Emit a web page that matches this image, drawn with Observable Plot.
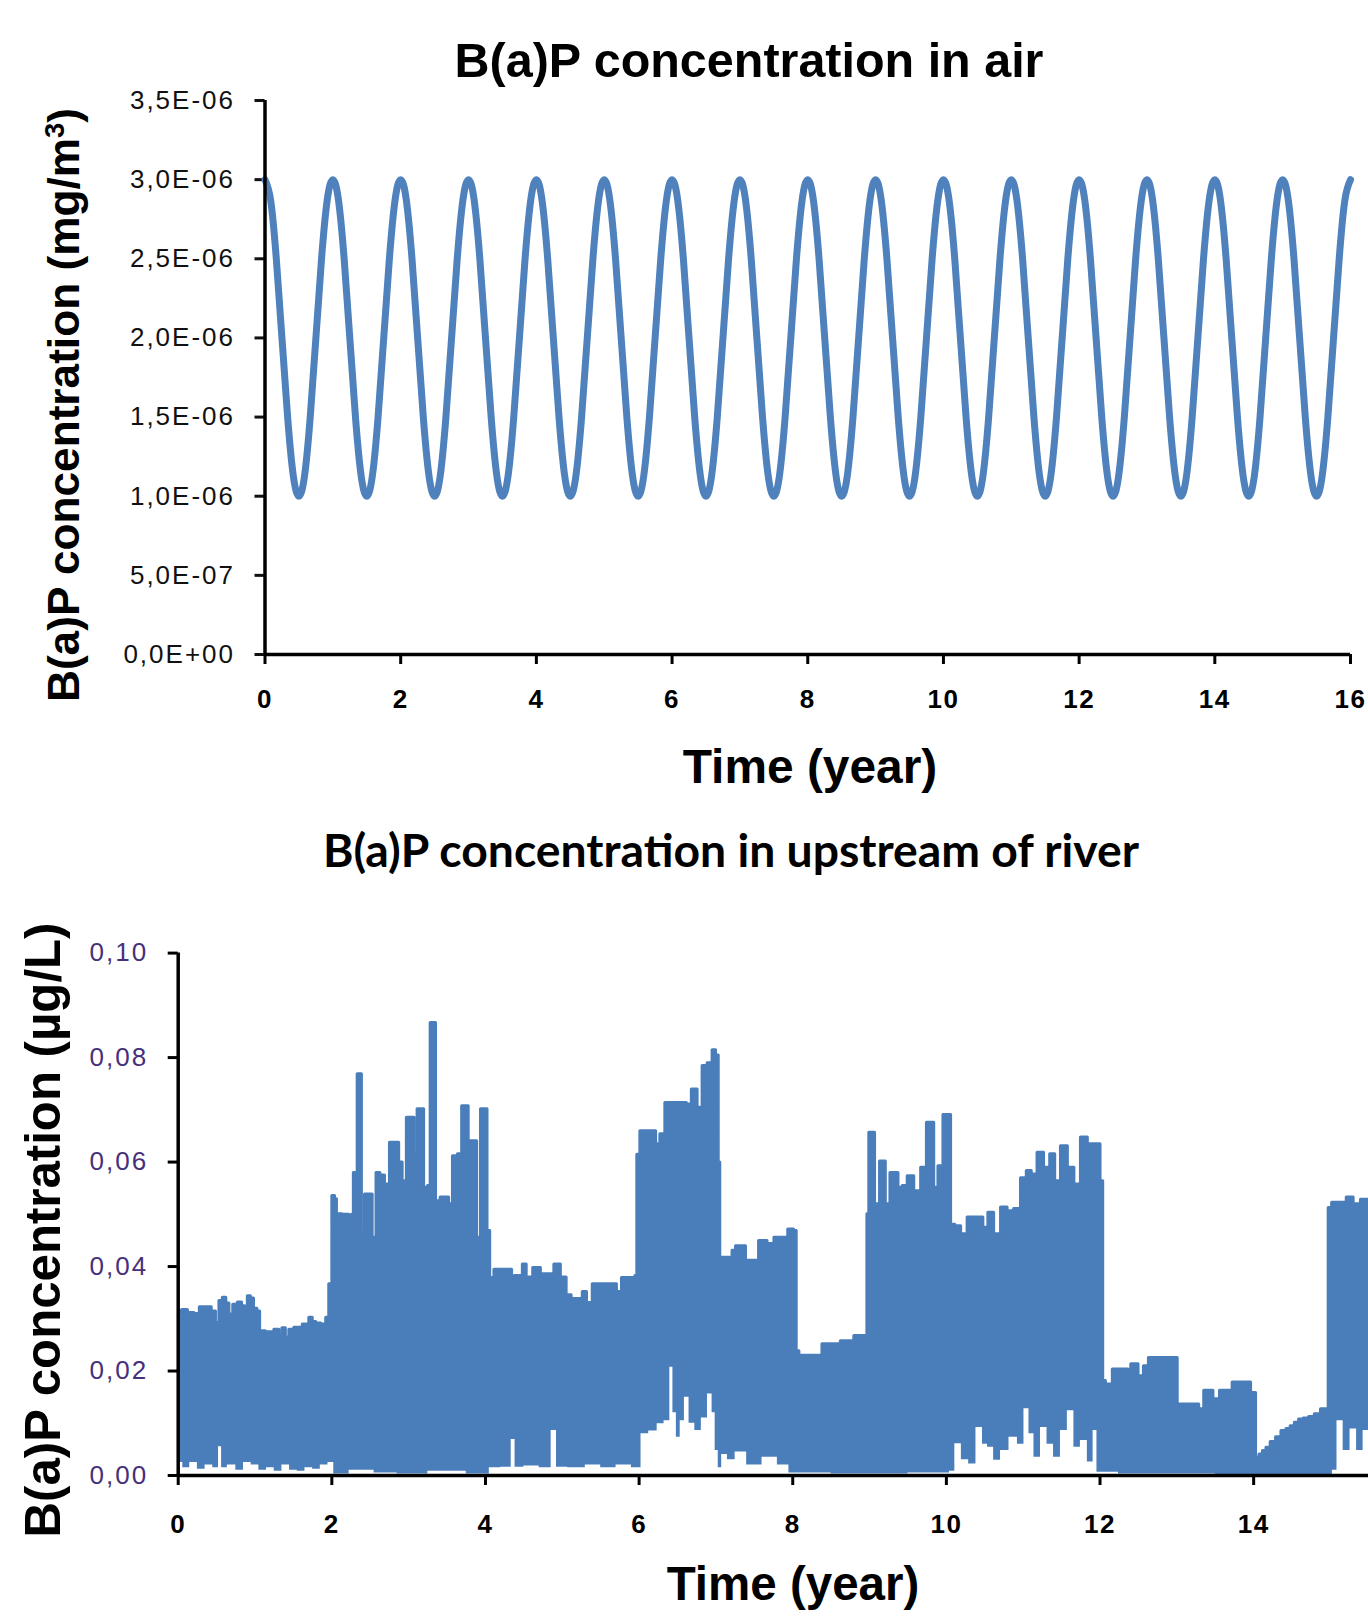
<!DOCTYPE html>
<html>
<head>
<meta charset="utf-8">
<script src="https://cdn.jsdelivr.net/npm/d3@7"></script>
<script src="https://cdn.jsdelivr.net/npm/@observablehq/plot@0.6"></script>
<style>
  html, body { margin: 0; padding: 0; background: #fff; }
  #page { position: relative; width: 1368px; height: 1620px; overflow: hidden; background: #fff; }
  .chart { position: absolute; left: 0; }
  .lbl { position: absolute; white-space: nowrap; color: #000; line-height: 1; }
  .arial { font-family: "Liberation Sans", Arial, sans-serif; font-weight: bold; }
  .calibri { font-family: "Lato", "Open Sans", sans-serif; font-weight: bold; }
  .center { transform: translate(-50%, -50%); }
  .rot { transform: translate(-50%, -50%) rotate(-90deg); }
  sup { font-size: 0.62em; vertical-align: 0.55em; line-height: 0; }
</style>
</head>
<body>
<div id="page">
  <div id="top" class="chart" style="top:0px"></div>
  <div id="bottom" class="chart" style="top:800px"></div>

  <div id="title1" class="lbl arial center" style="left:749px; top:60px; font-size:46px;">B(a)P concentration in air</div>
  <div id="xlab1" class="lbl arial center" style="left:810px; top:767px; font-size:46px;">Time (year)</div>
  <div id="ylab1" class="lbl arial rot" style="left:64px; top:405px; font-size:46px;">B(a)P concentration (mg/m<sup>3</sup>)</div>

  <div id="title2" class="lbl calibri center" style="left:731px; top:849px; font-size:40px;">B(a)P concentration in upstream of river</div>
  <div id="xlab2" class="lbl arial center" style="left:793px; top:1584px; font-size:46px;">Time (year)</div>
  <div id="ylab2" class="lbl arial rot" style="left:43px; top:1230px; font-size:46px;">B(a)P concentration (µg/L)</div>
</div>
<script>
// ---------------- DATA ----------------
// Top chart: air concentration (mg/m3). One yearly cycle
// (12 samples per year, values x1e-6); every one of the 16 years looks identical.
const airCycleProfile = [3.00, 2.87, 2.50, 2.00, 1.50, 1.13, 1.00, 1.13, 1.50, 2.00, 2.50, 2.87];
const airYearCount = 16;
const airFinalValue = 3.00;

const topYTicks = [0, 0.5e-6, 1.0e-6, 1.5e-6, 2.0e-6, 2.5e-6, 3.0e-6, 3.5e-6];
const topYLabels = ["0,0E+00", "5,0E-07", "1,0E-06", "1,5E-06", "2,0E-06", "2,5E-06", "3,0E-06", "3,5E-06"];
const topXTicks = [0, 2, 4, 6, 8, 10, 12, 14, 16];

// Bottom chart: river concentration (µg/L, values x1e-3).
// Upper envelope of the dense daily signal: [year, value]
const riverUpper = [
  [0.00, 30.5], [0.01, 31.6], [0.08, 31.8], [0.16, 31.2], [0.25, 31.0], [0.30, 32.3], [0.40, 32.3],
  [0.46, 31.5], [0.51, 29.3], [0.55, 33.5], [0.60, 34.1], [0.64, 33.0], [0.68, 30.9], [0.74, 32.8],
  [0.80, 33.2], [0.85, 32.5], [0.88, 31.5], [0.92, 34.4], [0.96, 34.0], [1.00, 32.0], [1.05, 31.5],
  [1.07, 27.7], [1.20, 27.5], [1.29, 28.0], [1.33, 26.8], [1.37, 28.3], [1.42, 26.5], [1.46, 28.0],
  [1.55, 28.4], [1.68, 29.0], [1.72, 30.3], [1.77, 29.5], [1.81, 29.2], [1.90, 29.0], [1.94, 30.3],
  [1.98, 36.7], [2.02, 53.6], [2.05, 53.0], [2.07, 50.1], [2.20, 50.0], [2.24, 47.5], [2.27, 50.0],
  [2.29, 58.0], [2.32, 58.0], [2.34, 76.9], [2.37, 76.9], [2.40, 46.6], [2.45, 53.9], [2.50, 53.9],
  [2.55, 45.6], [2.60, 58.0], [2.65, 57.5], [2.72, 55.8], [2.78, 63.8], [2.85, 63.8], [2.89, 60.0],
  [2.94, 56.4], [3.00, 68.6], [3.05, 68.6], [3.09, 61.6], [3.13, 70.2], [3.17, 70.2], [3.22, 55.2],
  [3.27, 55.5], [3.29, 86.7], [3.33, 86.7], [3.37, 52.6], [3.45, 53.3], [3.50, 53.3], [3.54, 52.0],
  [3.60, 61.2], [3.67, 61.6], [3.71, 70.8], [3.75, 70.8], [3.80, 64.1], [3.86, 64.1], [3.91, 45.6],
  [3.96, 70.2], [4.00, 70.2], [4.04, 46.9], [4.07, 37.9], [4.15, 39.5], [4.33, 39.5], [4.35, 37.3],
  [4.40, 38.3], [4.46, 38.3], [4.50, 40.5], [4.56, 38.0], [4.67, 39.8], [4.76, 38.6], [4.85, 38.6],
  [4.93, 40.5], [5.02, 38.0], [5.08, 34.6], [5.15, 33.9], [5.24, 33.9], [5.28, 35.2], [5.35, 33.1],
  [5.43, 36.7], [5.52, 36.7], [5.61, 36.7], [5.67, 36.7], [5.74, 35.2], [5.80, 37.9], [5.93, 37.9],
  [5.96, 38.3], [5.98, 61.5], [6.04, 66.0], [6.19, 66.0], [6.24, 63.5], [6.30, 65.4], [6.37, 71.4],
  [6.58, 71.4], [6.65, 71.1], [6.71, 74.0], [6.80, 70.5], [6.84, 78.5], [6.93, 79.0], [6.97, 81.5],
  [7.02, 80.5], [7.04, 60.0], [7.06, 41.8], [7.19, 41.8], [7.23, 43.1], [7.28, 44.0], [7.36, 44.0],
  [7.41, 41.2], [7.49, 41.2], [7.62, 45.0], [7.71, 44.4], [7.80, 45.6], [7.88, 45.6], [7.99, 47.2],
  [8.03, 46.9], [8.06, 23.9], [8.10, 23.0], [8.36, 23.0], [8.40, 25.2], [8.58, 25.2], [8.66, 25.8],
  [8.75, 25.8], [8.84, 26.8], [8.95, 26.8], [8.98, 50.1], [9.00, 65.7], [9.05, 65.7], [9.08, 52.0],
  [9.12, 52.0], [9.14, 60.2], [9.18, 60.2], [9.23, 52.0], [9.30, 58.0], [9.34, 58.0], [9.40, 55.2],
  [9.45, 55.5], [9.53, 57.4], [9.62, 54.5], [9.71, 59.0], [9.77, 67.6], [9.81, 67.6], [9.86, 55.2],
  [9.92, 59.3], [9.99, 69.1], [10.03, 69.1], [10.08, 48.1], [10.14, 47.8], [10.23, 46.3], [10.31, 49.5],
  [10.44, 49.5], [10.51, 47.5], [10.57, 50.4], [10.66, 46.3], [10.75, 51.4], [10.83, 50.7], [10.92, 51.1],
  [11.01, 57.0], [11.07, 58.4], [11.14, 57.7], [11.22, 61.9], [11.31, 59.0], [11.38, 61.6], [11.44, 56.4],
  [11.53, 63.1], [11.62, 59.0], [11.70, 55.8], [11.79, 64.8], [11.88, 63.5], [11.98, 63.5], [12.02, 56.4],
  [12.05, 18.2], [12.09, 17.5], [12.14, 17.5], [12.18, 20.4], [12.35, 20.4], [12.38, 19.5], [12.42, 21.4],
  [12.46, 21.4], [12.53, 19.1], [12.60, 21.0], [12.66, 22.6], [12.98, 22.6], [13.03, 13.7], [13.26, 13.7],
  [13.31, 12.8], [13.39, 16.3], [13.44, 16.3], [13.50, 14.7], [13.61, 16.3], [13.70, 16.3], [13.74, 17.9],
  [13.92, 17.9], [14.00, 15.9], [14.05, 3.5], [14.09, 4.1], [14.14, 4.8], [14.18, 5.4], [14.25, 6.5],
  [14.32, 7.4], [14.39, 8.6], [14.45, 9.0], [14.50, 9.5], [14.56, 10.2], [14.61, 10.8], [14.68, 11.0],
  [14.75, 11.3], [14.83, 11.8], [14.91, 12.8], [14.96, 12.8], [14.98, 51.3], [15.05, 52.3], [15.17, 52.3],
  [15.24, 53.3], [15.35, 52.0], [15.43, 52.9], [15.50, 52.9]
];
// Lower envelope of the same signal: [year, value]
const riverLower = [
  [0.00, 5.0], [0.02, 2.5], [0.10, 1.5], [0.20, 2.5], [0.30, 1.2], [0.40, 2.0], [0.50, 1.5], [0.55, 5.5],
  [0.58, 1.5], [0.70, 2.0], [0.80, 1.0], [0.90, 2.5], [1.00, 2.0], [1.10, 1.0], [1.20, 1.5], [1.30, 0.8],
  [1.40, 2.0], [1.50, 1.0], [1.60, 0.8], [1.70, 1.5], [1.80, 1.2], [1.90, 2.0], [2.00, 2.5], [2.05, 0.3],
  [2.40, 1.0], [2.70, 0.5], [3.00, 0.3], [3.50, 0.8], [4.00, 0.3], [4.10, 1.5], [4.30, 1.6], [4.37, 6.9],
  [4.40, 1.6], [4.60, 1.8], [4.80, 1.5], [4.91, 8.6], [4.94, 1.6], [5.20, 1.5], [5.40, 2.0], [5.60, 1.5],
  [5.80, 2.0], [6.00, 1.5], [6.05, 8.0], [6.20, 8.5], [6.27, 9.9], [6.38, 10.5], [6.42, 20.7], [6.46, 12.0],
  [6.51, 7.3], [6.56, 10.5], [6.62, 15.0], [6.68, 10.0], [6.77, 8.6], [6.85, 11.0], [6.93, 15.6],
  [6.97, 12.0], [7.01, 4.8], [7.05, 1.5], [7.10, 4.0], [7.20, 3.0], [7.30, 4.5], [7.50, 2.0], [7.70, 3.5],
  [7.90, 2.0], [8.00, 0.5], [9.00, 0.3], [10.00, 0.5], [10.08, 0.8], [10.14, 6.1], [10.25, 3.0],
  [10.33, 2.2], [10.44, 9.2], [10.50, 6.0], [10.57, 5.4], [10.66, 2.9], [10.75, 4.8], [10.88, 7.3],
  [10.97, 6.0], [11.05, 12.8], [11.10, 8.0], [11.18, 3.5], [11.27, 9.2], [11.35, 6.0], [11.44, 3.5],
  [11.53, 8.6], [11.62, 12.4], [11.70, 5.4], [11.79, 6.7], [11.88, 2.6], [11.94, 8.6], [11.98, 0.6],
  [12.50, 0.3], [13.00, 0.3], [14.00, 0.2], [15.00, 0.0], [15.05, 1.0], [15.12, 10.5], [15.21, 4.8],
  [15.30, 8.9], [15.38, 4.8], [15.47, 8.6], [15.50, 8.6]
];
const bottomYTicks = [0, 0.02, 0.04, 0.06, 0.08, 0.10];
const bottomYLabels = ["0,00", "0,02", "0,04", "0,06", "0,08", "0,10"];
const bottomXTicks = [0, 2, 4, 6, 8, 10, 12, 14];

// ---------------- BUILD ----------------
const airData = [];
for (let yr = 0; yr < airYearCount; yr++) {
  airCycleProfile.forEach((v, i) => airData.push({t: yr + i / airCycleProfile.length, v: v * 1e-6}));
}
airData.push({t: airYearCount, v: airFinalValue * 1e-6});

const upperData = riverUpper.map(([t, v]) => ({t, v: v / 1000}));
const lowerData = riverLower.map(([t, v]) => ({t, v: v / 1000}));

const FONT = "'Liberation Sans', Arial, sans-serif";
const BLUE = "#4F81BD";
const FILL = "#4a7ebb";

const topChart = Plot.plot({
  width: 1368, height: 800,
  marginLeft: 264.5, marginRight: 18, marginTop: 100, marginBottom: 146,
  x: {domain: [0, 16], axis: null},
  y: {domain: [0, 3.5e-6], axis: null},
  style: {fontFamily: FONT, background: "#fff", overflow: "visible"},
  marks: [
    Plot.axisY({ticks: topYTicks, tickFormat: d => topYLabels[topYTicks.indexOf(d)], tickSize: 10, tickPadding: 20,
      fontSize: 26, strokeWidth: 3, color: "#111", label: null}),
    Plot.axisX({ticks: topXTicks, tickFormat: d => String(d), tickSize: 10, tickPadding: 25,
      fontSize: 26, fontWeight: "bold", strokeWidth: 3, color: "#000", label: null}),
    Plot.line(airData, {x: "t", y: "v", stroke: BLUE, strokeWidth: 7, curve: "natural"}),
    Plot.ruleX([0], {y1: 0, y2: 3.5e-6, stroke: "#000", strokeWidth: 3.5}),
    Plot.ruleY([0], {x1: 0, x2: 16, stroke: "#000", strokeWidth: 3.5})
  ]
});
document.getElementById("top").appendChild(topChart);

const bottomChart = Plot.plot({
  width: 1368, height: 820,
  marginLeft: 177.7, marginRight: 0, marginTop: 152.6, marginBottom: 145,
  x: {domain: [0, 15.495], axis: null},
  y: {domain: [0, 0.10], axis: null},
  style: {fontFamily: FONT, background: "#fff", overflow: "visible"},
  marks: [
    Plot.areaY(upperData, {x: "t", y: "v", fill: FILL, curve: "step"}),
    Plot.line(upperData, {x: "t", y: "v", stroke: FILL, strokeWidth: 3, strokeLinejoin: "round", curve: "step"}),
    Plot.areaY(lowerData, {x: "t", y: "v", fill: "#fff", curve: "step"}),
    Plot.axisY({ticks: bottomYTicks, tickFormat: d => bottomYLabels[bottomYTicks.indexOf(d)], tickSize: 10, tickPadding: 20,
      fontSize: 26, strokeWidth: 3, stroke: "#000", fill: "#46307a", label: null}),
    Plot.axisX({ticks: bottomXTicks, tickFormat: d => String(d), tickSize: 10, tickPadding: 29,
      fontSize: 26, fontWeight: "bold", strokeWidth: 3, color: "#000", label: null}),
    Plot.ruleX([0], {y1: 0, y2: 0.10, stroke: "#000", strokeWidth: 3.5}),
    Plot.ruleY([0], {x1: 0, x2: 15.495, stroke: "#000", strokeWidth: 3.5})
  ]
});
document.getElementById("bottom").appendChild(bottomChart);

// letter spacing of tick labels (the reference's text is loosely spaced)
d3.selectAll('g[aria-label="y-axis tick label"] text').attr("letter-spacing", "2px");
d3.selectAll('g[aria-label="x-axis tick label"] text').attr("letter-spacing", "1.5px");

// fit label widths to the reference by scaling the font size
function fitFont(id, target) {
  const el = document.getElementById(id);
  const fs = parseFloat(el.style.fontSize);
  const w = el.offsetWidth;
  el.style.fontSize = (fs * target / w).toFixed(2) + "px";
}
fitFont("title1", 589);
fitFont("xlab1", 255);
fitFont("ylab1", 594);
fitFont("title2", 816);
fitFont("xlab2", 253);
fitFont("ylab2", 615);
</script>
</body>
</html>
